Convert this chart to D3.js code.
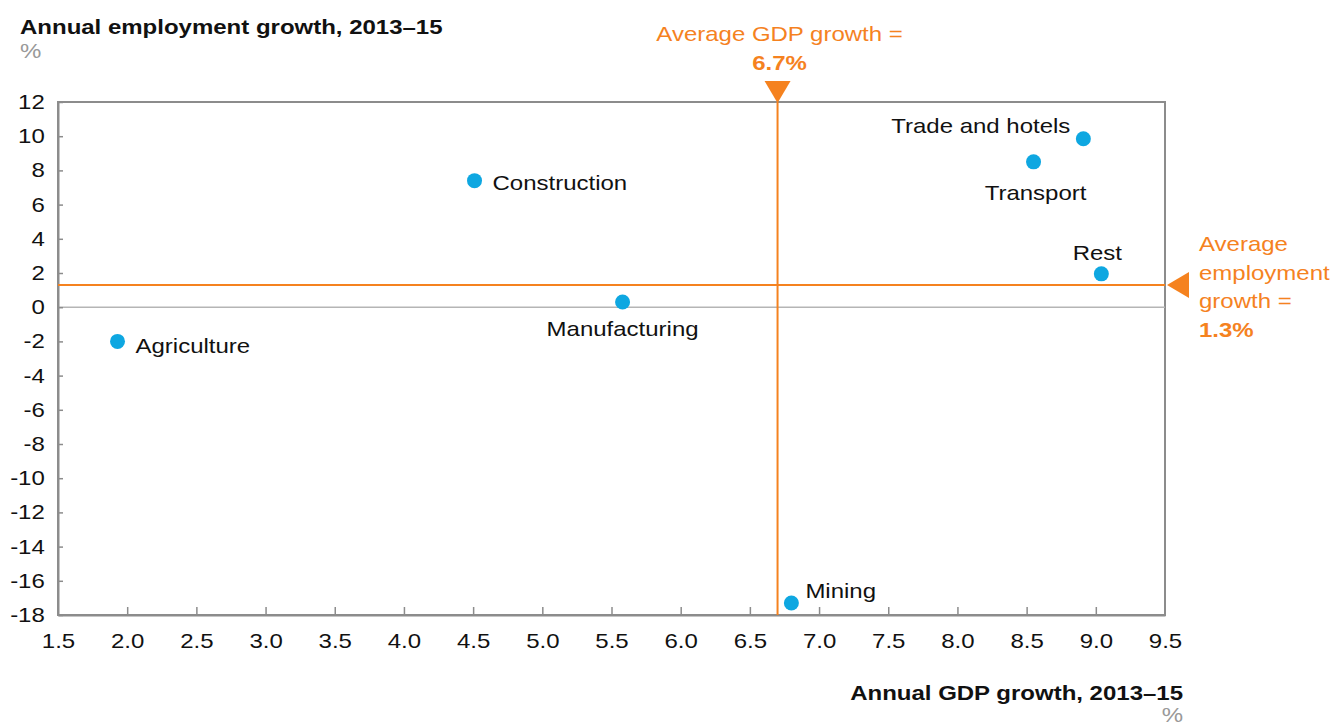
<!DOCTYPE html>
<html>
<head>
<meta charset="utf-8">
<script src="https://cdn.jsdelivr.net/npm/d3@7"></script>
<style>
  body { margin: 0; background: #fff; }
  svg text { font-family: "Liberation Sans", Arial, sans-serif; }
</style>
</head>
<body>
<div id="chart"></div>
<script>
// sectors, gdp growth (x) and employment growth (y), %
var sectors = ["Agriculture", "Construction", "Manufacturing", "Mining", "Transport", "Trade and hotels", "Rest"];
var gdpGrowth = [1.93, 4.51, 5.58, 6.80, 8.55, 8.91, 9.04];
var empGrowth = [-2.0, 7.4, 0.3, -17.3, 8.5, 9.85, 1.95];

var avgGdp = 6.7;
var avgEmp = 1.3;

var xTicks = [1.5, 2.0, 2.5, 3.0, 3.5, 4.0, 4.5, 5.0, 5.5, 6.0, 6.5, 7.0, 7.5, 8.0, 8.5, 9.0, 9.5];
var yTicks = [12, 10, 8, 6, 4, 2, 0, -2, -4, -6, -8, -10, -12, -14, -16, -18];

var width = 1335,
    height = 726;
var margin = {top: 102, right: 170, bottom: 111, left: 58};

var orange = "#f5821f",
    blue = "#0ea7e1",
    grey = "#8c8c8c";

// the original type is a bit wider than Liberation Sans
var sx = 1.2;

// where each label sits relative to its dot
var labelPos = {
    "Agriculture": {dx: 18, dy: 12, anchor: "start"},
    "Construction": {dx: 18, dy: 9, anchor: "start"},
    "Manufacturing": {dx: 0, dy: 34, anchor: "middle"},
    "Mining": {dx: 14, dy: -5, anchor: "start"},
    "Transport": {dx: 2, dy: 38, anchor: "middle"},
    "Trade and hotels": {dx: -13, dy: -6, anchor: "end"},
    "Rest": {dx: -4, dy: -14, anchor: "middle"}
};

var svg = d3.select("#chart").append("svg")
    .attr("width", width)
    .attr("height", height);

function addText(px, py, str, opts) {
    opts = opts || {};
    return svg.append("text")
        .attr("transform", "translate(" + px + "," + py + ") scale(" + sx + ",1)")
        .attr("text-anchor", opts.anchor || "start")
        .attr("fill", opts.fill || "#111")
        .style("font-size", "20px")
        .style("font-weight", opts.bold ? "bold" : "normal")
        .text(str);
}

var x = d3.scaleLinear().domain([1.5, 9.5]).range([margin.left, width - margin.right]);
var y = d3.scaleLinear().domain([-18, 12]).range([height - margin.bottom, margin.top]);

// frame
svg.append("rect")
    .attr("x", x(1.5))
    .attr("y", y(12))
    .attr("width", x(9.5) - x(1.5))
    .attr("height", y(-18) - y(12))
    .attr("fill", "none")
    .attr("stroke", grey)
    .attr("stroke-width", 2);

// zero line
svg.append("line")
    .attr("x1", x(1.5)).attr("x2", x(9.5))
    .attr("y1", y(0)).attr("y2", y(0))
    .attr("stroke", "#b5b5b5")
    .attr("stroke-width", 1.5);

// axes
var xAxis = svg.append("g")
    .attr("transform", "translate(0," + y(-18) + ")")
    .call(d3.axisBottom(x).tickValues(xTicks).tickSizeInner(-8).tickSizeOuter(0).tickPadding(19)
        .tickFormat(d3.format(".1f")));

var yAxis = svg.append("g")
    .attr("transform", "translate(" + x(1.5) + ",0)")
    .call(d3.axisLeft(y).tickValues(yTicks).tickSizeInner(-5).tickSizeOuter(0).tickPadding(11)
        .tickFormat(function(d) { return d; }));

[xAxis, yAxis].forEach(function(a) {
    a.select(".domain").attr("stroke", grey).attr("stroke-width", 2);
    a.selectAll(".tick line").attr("stroke", grey).attr("stroke-width", 1.5);
    a.selectAll(".tick text")
        .attr("fill", "#111")
        .attr("transform", "scale(" + sx + ",1)")
        .style("font-size", "20px");
});
xAxis.selectAll(".tick line").filter(function(d) { return d == 1.5 || d == 9.5; }).remove();

// average lines
svg.append("line")
    .attr("x1", x(avgGdp)).attr("x2", x(avgGdp))
    .attr("y1", y(12)).attr("y2", y(-18))
    .attr("stroke", orange).attr("stroke-width", 2);

svg.append("line")
    .attr("x1", x(1.5)).attr("x2", x(9.5))
    .attr("y1", y(avgEmp)).attr("y2", y(avgEmp))
    .attr("stroke", orange).attr("stroke-width", 2);

// triangles
var tx = x(avgGdp), ty = y(12);
svg.append("path")
    .attr("d", "M" + tx + "," + (ty + 1) + " L" + (tx - 13) + "," + (ty - 21) + " L" + (tx + 13) + "," + (ty - 21) + "Z")
    .attr("fill", orange);

var rx = x(9.5) + 2, ry = y(avgEmp);
svg.append("path")
    .attr("d", "M" + rx + "," + ry + " L" + (rx + 22) + "," + (ry - 13) + " L" + (rx + 22) + "," + (ry + 13) + "Z")
    .attr("fill", orange);

// annotation text
addText(tx + 2, 41, "Average GDP growth =", {anchor: "middle", fill: orange});
addText(tx + 2, 70, avgGdp.toFixed(1) + "%", {anchor: "middle", fill: orange, bold: true});

var rightLines = ["Average", "employment", "growth ="];
rightLines.forEach(function(t, i) {
    addText(1199, 251 + i * 28.5, t, {fill: orange});
});
addText(1199, 251 + 3 * 28.5, avgEmp.toFixed(1) + "%", {fill: orange, bold: true});

// points
var points = sectors.map(function(s, i) {
    return {name: s, gdp: gdpGrowth[i], emp: empGrowth[i]};
});

svg.selectAll(".dot")
    .data(points)
    .enter().append("circle")
    .attr("class", "dot")
    .attr("cx", function(d) { return x(d.gdp); })
    .attr("cy", function(d) { return y(d.emp); })
    .attr("r", 7.5)
    .attr("fill", blue);

svg.selectAll(".lbl")
    .data(points)
    .enter().append("text")
    .attr("class", "lbl")
    .attr("transform", function(d) {
        var p = labelPos[d.name];
        return "translate(" + (x(d.gdp) + p.dx) + "," + (y(d.emp) + p.dy) + ") scale(" + sx + ",1)";
    })
    .attr("text-anchor", function(d) { return labelPos[d.name].anchor; })
    .attr("fill", "#111")
    .style("font-size", "20px")
    .text(function(d) { return d.name; });

// titles
addText(20, 34, "Annual employment growth, 2013\u201315", {bold: true});
addText(20, 58, "%", {fill: "#999"});

addText(1183, 700, "Annual GDP growth, 2013\u201315", {anchor: "end", bold: true});
addText(1183, 722, "%", {anchor: "end", fill: "#999"});
</script>
</body>
</html>
